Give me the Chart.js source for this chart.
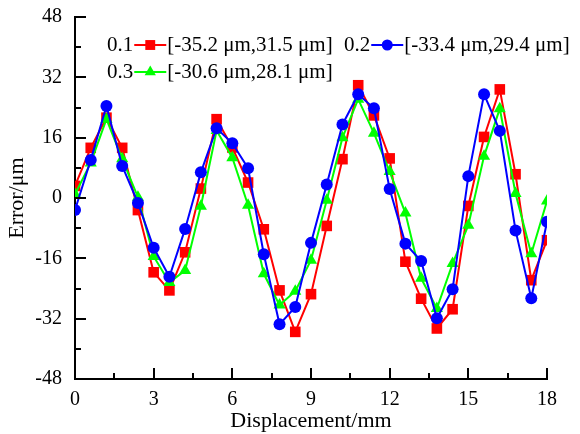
<!DOCTYPE html>
<html>
<head>
<meta charset="utf-8">
<script src="https://cdn.jsdelivr.net/npm/chart.js@4/dist/chart.umd.min.js"></script>
<style>
  html, body { margin: 0; padding: 0; background: #fff; }
  #wrap { width: 580px; height: 434px; position: relative; }
</style>
</head>
<body>
<div id="wrap"><canvas id="errorChart" width="580" height="434"></canvas></div>
<script>
// displacement positions (mm)
const displacement = [0, 0.6, 1.2, 1.8, 2.4, 3.0, 3.6, 4.2, 4.8, 5.4, 6.0, 6.6, 7.2, 7.8, 8.4, 9.0,
    9.6, 10.2, 10.8, 11.4, 12.0, 12.6, 13.2, 13.8, 14.4, 15.0, 15.6, 16.2, 16.8, 17.4, 18.0];

// error values (um)
const error01 = [3.2, 13.3, 21.3, 13.3, -3.2, -19.7, -24.5, -14.4, 2.5, 20.9, 13.4, 4.1, -8.3, -24.5, -35.5, -25.5,
    -7.4, 10.3, 29.9, 21.9, 10.5, -16.9, -26.7, -34.6, -29.5, -2.1, 16.2, 28.8, 6.3, -21.8, -11.2];
const error02 = [-3.2, 10.1, 24.4, 8.5, -1.3, -13.2, -20.9, -8.2, 6.8, 18.5, 14.5, 7.9, -14.9, -33.5, -28.9, -11.9,
    3.6, 19.5, 27.5, 23.8, 2.4, -12.1, -16.7, -31.9, -24.2, 5.8, 27.5, 17.8, -8.6, -26.6, -6.3];
const error03 = [1.0, 9.3, 20.9, 10.4, 0.2, -15.5, -22.4, -19.2, -2.2, 17.9, 10.7, -1.9, -20.1, -28.4, -24.7, -16.5,
    -0.6, 16.0, 26.2, 17.2, 7.0, -4.0, -21.3, -29.3, -17.4, -7.2, 11.1, 23.7, 1.2, -14.8, -0.8];

const seriesNames = ['0.1', '0.2', '0.3'];
const seriesRanges = ['[-35.2 \u03bcm,31.5 \u03bcm]', '[-33.4 \u03bcm,29.4 \u03bcm]', '[-30.6 \u03bcm,28.1 \u03bcm]'];

const xTicks = [0, 3, 6, 9, 12, 15, 18];
const yTicks = [-48, -32, -16, 0, 16, 32, 48];

const FONT = '"Liberation Serif", "Times New Roman", serif';
const colors = ['#FF0000', '#0000FF', '#00FF00'];
const pointStyles = ['rect', 'circle', 'triangle'];
const pointSizes = [7.5, 6, 7];

function toPoints(values) {
    return values.map((v, i) => ({ x: displacement[i], y: v }));
}

const allSeries = [error01, error02, error03];
const drawOrder = [2, 0, 1]; // blue on top, then green, red underneath

const datasets = allSeries.map((vals, i) => ({
    label: seriesNames[i],
    data: toPoints(vals),
    borderColor: colors[i],
    backgroundColor: colors[i],
    borderWidth: 2,
    pointStyle: pointStyles[i],
    pointRadius: pointSizes[i],
    pointBorderWidth: 0,
    pointHoverRadius: pointSizes[i],
    tension: 0,
    order: drawOrder[i]
}));

// tick marks drawn pointing into the plot, major + minor
const inwardTicks = {
    id: 'inwardTicks',
    afterDraw(chart) {
        const { ctx, chartArea, scales: { x, y } } = chart;
        ctx.save();
        ctx.strokeStyle = '#000';
        ctx.lineWidth = 2;
        ctx.beginPath();
        for (let v = 0; v <= 18; v += 1.5) {
            const px = Math.round(x.getPixelForValue(v));
            const len = v % 3 === 0 ? 11 : 6;
            ctx.moveTo(px, chartArea.bottom);
            ctx.lineTo(px, chartArea.bottom - len);
        }
        for (let v = -48; v <= 48; v += 8) {
            const py = Math.round(y.getPixelForValue(v));
            const len = v % 16 === 0 ? 11 : 6;
            ctx.moveTo(chartArea.left, py);
            ctx.lineTo(chartArea.left + len, py);
        }
        ctx.stroke();
        ctx.restore();
    }
};

// legend written inside the plot: "0.1 —■— [range]"
const innerLegend = {
    id: 'innerLegend',
    afterDraw(chart) {
        const ctx = chart.ctx;
        const spots = [{ x: 107, y: 45 }, { x: 344, y: 45 }, { x: 107, y: 72 }];
        ctx.save();
        ctx.font = '21px ' + FONT;
        ctx.textBaseline = 'middle';
        ctx.fillStyle = '#000';
        spots.forEach((s, i) => {
            ctx.fillText(seriesNames[i], s.x, s.y);
            const lx = s.x + ctx.measureText(seriesNames[i]).width + 1;
            ctx.strokeStyle = colors[i];
            ctx.lineWidth = 2;
            ctx.beginPath();
            ctx.moveTo(lx, s.y);
            ctx.lineTo(lx + 32, s.y);
            ctx.stroke();
            ctx.fillStyle = colors[i];
            ctx.strokeStyle = colors[i];
            Chart.helpers.drawPoint(ctx, { pointStyle: pointStyles[i], radius: pointSizes[i] - 0.5, borderWidth: 0, rotation: 0 }, lx + 16, s.y);
            ctx.fillStyle = '#000';
            ctx.fillText(seriesRanges[i], lx + 33, s.y);
        });
        ctx.restore();
    }
};

new Chart(document.getElementById('errorChart').getContext('2d'), {
    type: 'line',
    data: { datasets },
    plugins: [inwardTicks, innerLegend],
    options: {
        responsive: false,
        animation: false,
        layout: { padding: { top: 12, right: 33, left: 0, bottom: 0 } },
        plugins: {
            legend: { display: false },
            tooltip: { enabled: false }
        },
        scales: {
            x: {
                type: 'linear',
                min: 0,
                max: 18,
                afterFit: scale => { scale.height = 55; },
                afterBuildTicks: scale => { scale.ticks = xTicks.map(v => ({ value: v })); },
                grid: { display: false },
                border: { display: true, color: '#000', width: 2 },
                ticks: { color: '#000', padding: 1, font: { family: FONT, size: 20 } },
                title: {
                    display: true,
                    text: 'Displacement/mm',
                    color: '#000',
                    padding: { top: 0, bottom: 0 },
                    font: { family: FONT, size: 22 }
                }
            },
            y: {
                min: -48,
                max: 48,
                afterFit: scale => { scale.width = 75; },
                afterBuildTicks: scale => { scale.ticks = yTicks.map(v => ({ value: v })); },
                grid: { display: false },
                border: { display: true, color: '#000', width: 2 },
                ticks: { color: '#000', padding: 5, font: { family: FONT, size: 20 } },
                title: {
                    display: true,
                    text: 'Error/\u03bcm',
                    color: '#000',
                    padding: { top: 4, bottom: 0 },
                    font: { family: FONT, size: 22 }
                }
            }
        }
    }
});
</script>
</body>
</html>
